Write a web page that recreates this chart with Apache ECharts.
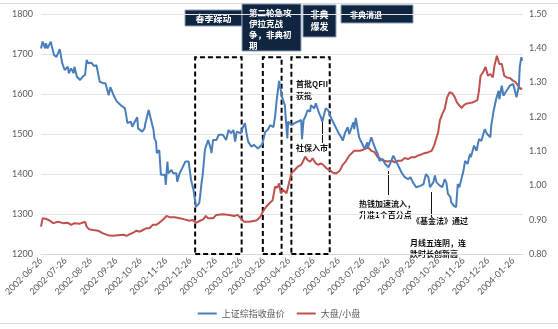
<!DOCTYPE html>
<html>
<head>
<meta charset="utf-8">
<script src="https://cdn.jsdelivr.net/npm/echarts@6/dist/echarts.min.js"></script>
<style>
  html, body { margin: 0; padding: 0; background: #fff; }
  #chart { width: 558px; height: 329px; }
</style>
</head>
<body>
<div id="chart"></div>
<script>
// 上证综指收盘价 (left axis)
const shIndexClose = [
  ['2002-06-26',1714],['2002-06-28',1731],['2002-07-01',1714],['2002-07-02',1727],['2002-07-04',1714],
  ['2002-07-08',1731],['2002-07-09',1722],['2002-07-12',1697],['2002-07-15',1693],['2002-07-19',1712],
  ['2002-07-22',1677],['2002-07-25',1660],['2002-07-29',1668],['2002-07-30',1652],['2002-08-02',1664],
  ['2002-08-05',1652],['2002-08-06',1668],['2002-08-08',1664],['2002-08-09',1643],['2002-08-13',1635],
  ['2002-08-16',1643],['2002-08-19',1648],['2002-08-21',1685],['2002-08-23',1677],['2002-08-27',1678],
  ['2002-08-30',1670],['2002-09-02',1672],['2002-09-04',1677],['2002-09-06',1631],['2002-09-10',1627],
  ['2002-09-13',1627],['2002-09-17',1597],['2002-09-19',1617],['2002-09-23',1597],['2002-09-25',1593],
  ['2002-09-27',1581],['2002-10-02',1572],['2002-10-07',1564],['2002-10-10',1527],['2002-10-11',1522],
  ['2002-10-14',1531],['2002-10-16',1518],['2002-10-18',1527],['2002-10-22',1542],['2002-10-23',1514],
  ['2002-10-28',1506],['2002-10-31',1514],['2002-11-01',1527],['2002-11-05',1560],['2002-11-07',1543],
  ['2002-11-11',1510],['2002-11-12',1489],['2002-11-14',1481],['2002-11-15',1452],['2002-11-18',1460],
  ['2002-11-20',1398],['2002-11-22',1393],['2002-11-25',1398],['2002-11-26',1373],['2002-11-28',1431],
  ['2002-11-29',1402],['2002-12-03',1410],['2002-12-05',1402],['2002-12-09',1402],['2002-12-10',1381],
  ['2002-12-13',1402],['2002-12-16',1414],['2002-12-18',1418],['2002-12-20',1431],['2002-12-24',1431],
  ['2002-12-27',1385],['2002-12-30',1360],['2003-01-02',1318],['2003-01-06',1327],['2003-01-07',1343],
  ['2003-01-09',1381],['2003-01-10',1393],['2003-01-13',1460],['2003-01-14',1468],['2003-01-17',1485],
  ['2003-01-20',1464],['2003-01-21',1452],['2003-01-23',1485],['2003-01-27',1485],['2003-01-30',1498],
  ['2003-02-04',1498],['2003-02-08',1485],['2003-02-11',1510],['2003-02-14',1502],['2003-02-17',1510],
  ['2003-02-19',1481],['2003-02-21',1506],['2003-02-26',1502],['2003-02-28',1514],['2003-03-03',1527],
  ['2003-03-05',1502],['2003-03-07',1481],['2003-03-11',1468],['2003-03-14',1473],['2003-03-19',1464],
  ['2003-03-24',1473],['2003-03-26',1489],['2003-03-28',1506],['2003-03-31',1510],['2003-04-03',1522],
  ['2003-04-07',1517],['2003-04-09',1543],['2003-04-11',1585],['2003-04-14',1633],['2003-04-16',1610],
  ['2003-04-18',1589],['2003-04-21',1572],['2003-04-22',1543],['2003-04-24',1489],['2003-04-25',1531],
  ['2003-04-29',1522],['2003-05-03',1527],['2003-05-07',1531],['2003-05-11',1535],['2003-05-12',1487],
  ['2003-05-14',1535],['2003-05-16',1543],['2003-05-19',1560],['2003-05-22',1556],['2003-05-23',1572],
  ['2003-05-27',1564],['2003-05-29',1577],['2003-05-30',1577],['2003-06-02',1552],['2003-06-04',1543],
  ['2003-06-06',1531],['2003-06-09',1556],['2003-06-10',1564],['2003-06-13',1560],['2003-06-16',1543],
  ['2003-06-19',1531],['2003-06-23',1514],['2003-06-26',1502],['2003-06-30',1489],['2003-07-01',1483],
  ['2003-07-04',1504],['2003-07-07',1517],['2003-07-09',1500],['2003-07-14',1529],['2003-07-15',1512],
  ['2003-07-17',1540],['2003-07-21',1492],['2003-07-23',1483],['2003-07-25',1475],['2003-07-28',1462],
  ['2003-07-31',1479],['2003-08-01',1467],['2003-08-05',1492],['2003-08-07',1479],['2003-08-11',1458],
  ['2003-08-13',1450],['2003-08-15',1433],['2003-08-19',1437],['2003-08-22',1425],['2003-08-26',1417],
  ['2003-08-28',1425],['2003-09-01',1446],['2003-09-03',1442],['2003-09-05',1429],['2003-09-08',1417],
  ['2003-09-11',1404],['2003-09-15',1392],['2003-09-19',1387],['2003-09-22',1392],['2003-09-25',1379],
  ['2003-09-29',1367],['2003-09-30',1368],['2003-10-05',1371],['2003-10-08',1375],['2003-10-11',1400],
  ['2003-10-14',1392],['2003-10-16',1367],['2003-10-17',1362],['2003-10-20',1379],['2003-10-22',1396],
  ['2003-10-24',1379],['2003-10-28',1371],['2003-10-31',1367],['2003-11-03',1387],['2003-11-05',1379],
  ['2003-11-07',1350],['2003-11-10',1342],['2003-11-11',1329],['2003-11-13',1325],['2003-11-14',1321],
  ['2003-11-17',1317],['2003-11-19',1375],['2003-11-21',1367],['2003-11-24',1392],['2003-11-26',1408],
  ['2003-11-28',1433],['2003-12-01',1425],['2003-12-04',1450],['2003-12-05',1442],['2003-12-09',1471],
  ['2003-12-12',1458],['2003-12-15',1487],['2003-12-18',1483],['2003-12-22',1512],['2003-12-25',1500],
  ['2003-12-29',1492],['2003-12-30',1520],['2004-01-02',1558],['2004-01-05',1587],['2004-01-06',1583],
  ['2004-01-08',1608],['2004-01-09',1587],['2004-01-12',1621],['2004-01-14',1596],['2004-01-16',1600],
  ['2004-01-19',1612],['2004-01-22',1621],['2004-01-26',1625],['2004-01-28',1629],['2004-01-30',1592],
  ['2004-02-02',1621],['2004-02-03',1667],['2004-02-05',1692],['2004-02-06',1683]
];

// 大盘/小盘 (right axis)
const largeSmallRatio = [
  ['2002-06-26',0.880],['2002-06-28',0.904],['2002-07-03',0.902],['2002-07-07',0.897],['2002-07-11',0.890],
  ['2002-07-17',0.894],['2002-07-23',0.890],['2002-07-29',0.891],['2002-08-02',0.885],['2002-08-06',0.890],
  ['2002-08-12',0.888],['2002-08-19',0.894],['2002-08-21',0.880],['2002-08-24',0.872],['2002-08-29',0.870],
  ['2002-09-04',0.868],['2002-09-10',0.860],['2002-09-16',0.855],['2002-09-22',0.853],['2002-09-28',0.855],
  ['2002-10-05',0.856],['2002-10-09',0.853],['2002-10-13',0.858],['2002-10-17',0.862],['2002-10-21',0.868],
  ['2002-10-25',0.865],['2002-10-29',0.870],['2002-11-02',0.875],['2002-11-06',0.875],['2002-11-10',0.885],
  ['2002-11-14',0.885],['2002-11-18',0.891],['2002-11-22',0.899],['2002-11-27',0.911],['2002-12-01',0.907],
  ['2002-12-07',0.907],['2002-12-13',0.904],['2002-12-19',0.901],['2002-12-25',0.897],['2002-12-29',0.899],
  ['2003-01-02',0.891],['2003-01-07',0.897],['2003-01-11',0.901],['2003-01-14',0.911],['2003-01-17',0.904],
  ['2003-01-23',0.904],['2003-01-27',0.914],['2003-02-04',0.916],['2003-02-12',0.914],['2003-02-18',0.911],
  ['2003-02-22',0.914],['2003-02-26',0.904],['2003-03-02',0.894],['2003-03-08',0.894],['2003-03-14',0.896],
  ['2003-03-18',0.899],['2003-03-22',0.909],['2003-03-25',0.923],['2003-03-29',0.938],['2003-04-02',0.948],
  ['2003-04-06',0.957],['2003-04-09',0.996],['2003-04-12',0.994],['2003-04-14',1.006],['2003-04-16',0.977],
  ['2003-04-19',0.987],['2003-04-23',0.977],['2003-04-26',1.006],['2003-04-29',1.035],['2003-05-03',1.045],
  ['2003-05-07',1.055],['2003-05-11',1.060],['2003-05-13',1.069],['2003-05-16',1.084],['2003-05-19',1.074],
  ['2003-05-22',1.069],['2003-05-25',1.079],['2003-05-29',1.064],['2003-06-01',1.060],['2003-06-04',1.064],
  ['2003-06-07',1.060],['2003-06-11',1.050],['2003-06-15',1.045],['2003-06-19',1.037],['2003-06-23',1.035],
  ['2003-06-27',1.042],['2003-07-01',1.060],['2003-07-05',1.071],['2003-07-09',1.087],['2003-07-15',1.101],
  ['2003-07-22',1.101],['2003-07-28',1.106],['2003-08-01',1.111],['2003-08-05',1.101],['2003-08-09',1.097],
  ['2003-08-13',1.082],['2003-08-17',1.077],['2003-08-21',1.072],['2003-08-25',1.070],['2003-08-30',1.072],
  ['2003-09-03',1.067],['2003-09-07',1.072],['2003-09-11',1.072],['2003-09-15',1.080],['2003-09-19',1.077],
  ['2003-09-23',1.082],['2003-09-27',1.082],['2003-10-01',1.087],['2003-10-05',1.090],['2003-10-09',1.094],
  ['2003-10-14',1.097],['2003-10-18',1.101],['2003-10-21',1.116],['2003-10-24',1.140],['2003-10-26',1.155],
  ['2003-10-28',1.189],['2003-10-31',1.208],['2003-11-03',1.223],['2003-11-06',1.257],['2003-11-09',1.272],
  ['2003-11-12',1.269],['2003-11-15',1.259],['2003-11-18',1.242],['2003-11-21',1.233],['2003-11-24',1.226],
  ['2003-11-26',1.233],['2003-11-29',1.238],['2003-12-03',1.240],['2003-12-07',1.242],['2003-12-10',1.245],
  ['2003-12-13',1.249],['2003-12-15',1.276],['2003-12-17',1.320],['2003-12-20',1.330],['2003-12-23',1.346],
  ['2003-12-26',1.320],['2003-12-29',1.325],['2004-01-01',1.315],['2004-01-03',1.349],['2004-01-06',1.378],
  ['2004-01-09',1.354],['2004-01-12',1.354],['2004-01-15',1.320],['2004-01-18',1.315],['2004-01-22',1.313],
  ['2004-01-26',1.305],['2004-01-29',1.301],['2004-02-01',1.291],['2004-02-04',1.281],['2004-02-06',1.284]
];

// monthly labels on the date axis
const tickDates = [
  '2002-06-26','2002-07-26','2002-08-26','2002-09-26','2002-10-26','2002-11-26','2002-12-26',
  '2003-01-26','2003-02-26','2003-03-26','2003-04-26','2003-05-26','2003-06-26','2003-07-26',
  '2003-08-26','2003-09-26','2003-10-26','2003-11-26','2003-12-26','2004-01-26'
];
const axisEndDate = '2004-02-07';

// event windows outlined with dashed frames
const eventWindows = [
  ['2003-01-01', '2003-02-27'],
  ['2003-03-25', '2003-04-17'],
  ['2003-04-29', '2003-06-15']
];
const windowTop = 1692;

const seriesNames = ['上证综指收盘价', '大盘/小盘'];

// dates are placed on a linear day scale (milliseconds)
function toTime(s) { return +echarts.number.parseDate(s); }
function toPoints(rows) { return rows.map(function (r) { return [toTime(r[0]), r[1]]; }); }
function pad(n) { return n < 10 ? '0' + n : '' + n; }
function fmtDate(v) {
  const d = new Date(v);
  return d.getFullYear() + '-' + pad(d.getMonth() + 1) + '-' + pad(d.getDate());
}

const chart = echarts.init(document.getElementById('chart'), null, { renderer: 'canvas' });

const axisFont = 'Lato, "Liberation Sans", sans-serif';
const cjkFont = '"Noto Sans CJK SC", sans-serif';
const grey = '#595959';

// navy title boxes along the top
function navyBox(x, y, w, h, text, tx, ty, align, lineHeight, size) {
  return {
    type: 'group',
    children: [
      { type: 'rect', shape: { x: x, y: y, width: w, height: h },
        style: { fill: '#10253f', stroke: '#8ea0b8', lineWidth: 1 } },
      { type: 'text', x: tx, y: ty,
        style: { text: text, fill: '#ffffff', font: 'bold ' + size + 'px ' + cjkFont,
                 align: align, verticalAlign: 'top', lineHeight: lineHeight } }
    ]
  };
}
function note(x, y, text, lineHeight) {
  return { type: 'text', x: x, y: y,
    style: { text: text, fill: '#111', font: 'bold 8px ' + cjkFont,
             verticalAlign: 'top', lineHeight: lineHeight || 10 } };
}
function pointer(x, y1, y2) {
  return { type: 'line', shape: { x1: x, y1: y1, x2: x, y2: y2 },
    style: { stroke: '#111', lineWidth: 1 } };
}

const option = {
  animation: false,
  backgroundColor: '#ffffff',
  grid: { left: 41, right: 35, top: 14, bottom: 75 },
  legend: {
    top: 304, left: 'center',
    icon: 'rect', itemWidth: 19, itemHeight: 2, itemGap: 12,
    textStyle: { fontSize: 9, color: grey, fontFamily: cjkFont },
    data: seriesNames
  },
  xAxis: {
    type: 'value',
    min: toTime(tickDates[0]),
    max: toTime(axisEndDate),
    axisLine: { show: true, lineStyle: { color: '#d9d9d9' } },
    axisTick: { show: false },
    splitLine: { show: false },
    axisLabel: {
      customValues: tickDates.map(toTime),
      formatter: function (v) { return fmtDate(v); },
      rotate: 45, fontSize: 9, color: grey, fontFamily: axisFont, margin: 5,
      showMinLabel: true, showMaxLabel: true
    }
  },
  yAxis: [
    {
      type: 'value', min: 1200, max: 1800, interval: 100,
      axisLine: { show: false }, axisTick: { show: false },
      splitLine: { lineStyle: { color: '#e3e3e3', width: 1 } },
      axisLabel: { fontSize: 9, color: grey, fontFamily: axisFont, margin: 8,
                   formatter: function (v) { return String(v); } }
    },
    {
      type: 'value', min: 0.8, max: 1.5, interval: 0.1,
      axisLine: { show: false }, axisTick: { show: false },
      splitLine: { show: false },
      axisLabel: { fontSize: 9, color: grey, fontFamily: axisFont, margin: 6,
                   formatter: function (v) { return v.toFixed(2); } }
    }
  ],
  series: [
    {
      name: seriesNames[0], type: 'line', yAxisIndex: 0,
      data: toPoints(shIndexClose), symbol: 'none',
      lineStyle: { color: '#4a7ebb', width: 2 }, itemStyle: { color: '#4a7ebb' },
      z: 3,
      markArea: {
        silent: true,
        itemStyle: { color: 'rgba(0,0,0,0)', borderColor: '#000', borderWidth: 2, borderType: [5, 3] },
        data: eventWindows.map(function (w) {
          return [{ coord: [toTime(w[0]), 1200] }, { coord: [toTime(w[1]), windowTop] }];
        })
      }
    },
    {
      name: seriesNames[1], type: 'line', yAxisIndex: 1,
      data: toPoints(largeSmallRatio), symbol: 'none',
      lineStyle: { color: '#c0504d', width: 2 }, itemStyle: { color: '#c0504d' },
      z: 2
    }
  ],
  graphic: [
    { type: 'line', shape: { x1: 0, y1: 3.5, x2: 558, y2: 3.5 }, style: { stroke: '#d9d9d9', lineWidth: 1 }, z: 0 },
    { type: 'line', shape: { x1: 0, y1: 323.5, x2: 558, y2: 323.5 }, style: { stroke: '#d9d9d9', lineWidth: 1 }, z: 0 },
    navyBox(185, 10, 57, 16, '春季躁动', 213.5, 13, 'center', 11, 9),
    navyBox(242, 4, 59, 47, '第二轮急攻\n伊拉克战\n争，非典初\n期', 249, 7, 'left', 11, 8.5),
    navyBox(303, 5, 33, 32, '非典\n爆发', 319.5, 9, 'center', 12, 9),
    navyBox(341, 5, 72, 18, '非典消退', 350, 9, 'left', 11, 8),
    note(296, 78, '首批QFII\n获批', 12),
    note(296, 143, '社保入市'),
    pointer(322.5, 122, 143),
    note(359, 199, '热钱加速流入，\n升准1个百分点', 10.5),
    pointer(388.5, 171, 195),
    note(412, 216, '《基金法》通过'),
    pointer(431.5, 192, 217),
    note(410, 238, '月线五连阴，连\n跌时长创新高', 10.5)
  ]
};

chart.setOption(option);
</script>
</body>
</html>
